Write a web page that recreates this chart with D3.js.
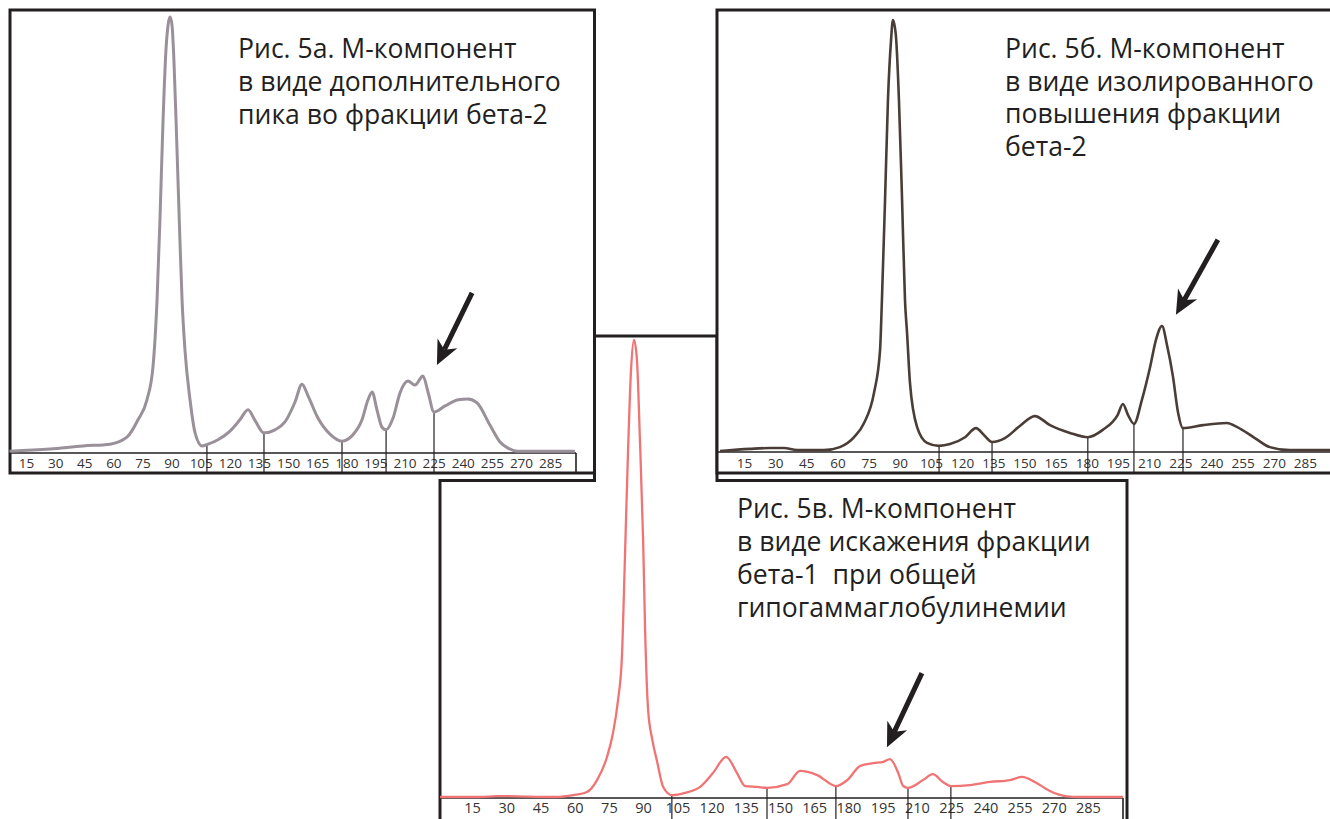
<!DOCTYPE html>
<html>
<head>
<meta charset="utf-8">
<script src="https://cdn.jsdelivr.net/npm/d3@7"></script>
<style>
    body { margin: 0; background: #fff; }
    svg { display: block; }
</style>
</head>
<body>
<svg id="chart" width="1330" height="819"></svg>
<script>
// Tick labels shared by all three densitograms
const xTicks = [15, 30, 45, 60, 75, 90, 105, 120, 135, 150, 165, 180, 195, 210, 225, 240, 255, 270, 285];

// Fig. 5a - curve: [position, relative intensity %]
const curveA = [
    [6.5, 0.2], [27.4, 0.7], [44.4, 1.4], [58.3, 1.8], [67.0, 3.4], [72.7, 7.4], [77.3, 12.0],
    [80.4, 19.5], [82.5, 34.9], [84.0, 53.3], [85.6, 76.3], [87.1, 92.4], [88.2, 98.2], [89.2, 100],
    [90.2, 98.2], [91.2, 90.1], [92.8, 69.4], [94.3, 48.7], [95.4, 34.9], [96.9, 23.4], [99.5, 12.0],
    [102.1, 4.4], [105.7, 1.4], [108.8, 1.8], [113.9, 2.8], [120.1, 4.8], [125.2, 7.4], [129.4, 9.7],
    [132.8, 7.4], [137.6, 4.4], [143.3, 5.1], [148.4, 6.9], [153.6, 11.5], [157.2, 15.6], [160.3, 12.9],
    [165.4, 7.8], [171.6, 4.1], [177.8, 2.5], [182.9, 3.7], [188.1, 7.4], [191.2, 12.0], [193.3, 13.8],
    [195.8, 9.7], [198.4, 5.7], [200.5, 5.1], [204.1, 7.8], [207.7, 13.6], [211.8, 16.3], [215.4, 15.4],
    [219.5, 17.5], [222.1, 13.8], [225.2, 9.2], [230.9, 10.6], [237.6, 12.0], [242.7, 12.2], [247.4, 11.3],
    [254.0, 6.2], [259.2, 2.3], [263.3, 0.9], [268.0, 0.2], [297.8, 0.2]
];
const dividersA = [108.2, 137.6, 177.8, 200.5, 225.2];
const captionA = ["Рис. 5а. М-компонент", "в виде дополнительного", "пика во фракции бета-2"];

// Fig. 5б
const curveB = [
    [3.5, 0.0], [17.9, 0.5], [27.5, 0.7], [34.3, 0.7], [40.5, 0.2], [53.5, 0.2], [61.2, 0.9],
    [68.0, 3.2], [72.8, 6.5], [77.6, 13.5], [80.5, 23.4], [81.4, 35.0], [82.9, 58.2], [84.3, 81.4],
    [85.8, 95.4], [86.7, 100], [88.1, 96.5], [89.6, 81.4], [91.1, 58.2], [92.5, 35.0], [93.5, 27.4],
    [94.9, 15.8], [98.3, 5.6], [103.1, 1.9], [108.9, 1.2], [114.2, 1.6], [121.4, 3.2], [126.7, 5.3],
    [130.5, 3.7], [134.4, 2.1], [140.6, 3.0], [147.8, 5.8], [155.0, 8.1], [162.3, 6.0], [171.9, 4.2],
    [180.5, 3.2], [187.7, 4.9], [194.9, 8.4], [197.4, 10.9], [199.8, 8.4], [202.7, 6.3], [206.5, 11.8],
    [210.4, 19.3], [213.3, 25.8], [216.2, 29.0], [218.6, 24.6], [221.5, 17.2], [223.9, 9.0], [226.3, 5.3],
    [235.9, 6.0], [247.4, 6.5], [252.2, 5.6], [260.9, 3.0], [268.1, 0.9], [277.7, 0.2], [300, 0.2]
];
const dividersB = [108.9, 134.4, 180.5, 202.7, 226.3];
const captionB = ["Рис. 5б. М-компонент", "в виде изолированного", "повышения фракции", "бета-2"];

// Fig. 5в
const curveC = [
    [1.0, 0.0], [18.5, 0.0], [25.9, 0.2], [52.2, 0.0], [59.3, 0.4], [65.4, 1.1], [69.8, 3.7],
    [74.2, 8.8], [76.8, 14.0], [79.0, 21.2], [80.7, 30.6], [82.0, 51.9], [83.4, 75.9], [84.7, 93.4],
    [86.0, 100], [87.3, 95.6], [88.6, 78.1], [90.0, 56.2], [90.9, 36.0], [92.2, 19.0], [94.0, 12.6],
    [96.2, 7.6], [98.8, 2.2], [102.7, 0.4], [108.4, 0.9], [115.0, 2.2], [120.7, 5.3], [126.4, 8.8],
    [131.1, 5.3], [134.7, 2.4], [140.0, 2.2], [144.4, 2.0], [153.2, 2.8], [158.8, 5.7], [166.3, 4.8],
    [174.6, 2.4], [179.5, 3.7], [185.2, 6.8], [190.9, 7.4], [195.3, 7.7], [198.2, 8.3], [201.8, 5.3],
    [204.0, 2.4], [206.1, 2.0], [212.7, 3.7], [217.0, 5.0], [221.4, 3.3], [224.9, 2.4], [233.3, 2.6],
    [242.1, 3.3], [250.8, 3.7], [256.1, 4.4], [261.7, 3.3], [268.3, 1.3], [274.9, 0.2], [281.5, 0.0],
    [300.4, 0.0]
];
const dividersC = [102.6, 144.3, 174.5, 206.1, 224.9];
const captionC = ["Рис. 5в. М-компонент", "в виде искажения фракции", "бета-1  при общей", "гипогаммаглобулинемии"];

// Arrows: [tail position, tail value, tip position, tip value]
const arrowA = [244.8, 36.6, 226.7, 20.0];
const arrowB = [243.1, 49.0, 222.9, 31.6];
const arrowC = [212.2, 27.1, 196.9, 10.9];

const ink = "#231f20";
const svg = d3.select("#chart");

// Layout of the three panels (pixels)
const panels = [
    {
        name: "C", curve: curveC, dividers: dividersC, arrow: arrowC, caption: captionC,
        color: "#f07474", strokeWidth: 2.3,
        xRange: [437.8, 1122.2], yRange: [797, 340],
        axisY: 798, axisLeft: 440, axisEnd: 1123, bottom: 819, labelY: 813, labelSize: 14.5,
        framePath: "M440,822V480.5H594.5V336H717V480.5H1127V822",
        captionX: 737, captionY: 518, lineH: 33
    },
    {
        name: "A", curve: curveA, dividers: dividersA, arrow: arrowA, caption: captionA,
        color: "#9a9099", strokeWidth: 3,
        xRange: [-3.1, 579.2], yRange: [452, 17],
        axisY: 453, axisLeft: 10, axisEnd: 576, bottom: 473, labelY: 468, labelSize: 13.5,
        frame: {x: 10, y: 10, w: 584.5, h: 463},
        captionX: 238, captionY: 58, lineH: 33
    },
    {
        name: "B", curve: curveB, dividers: dividersB, arrow: arrowB, caption: captionB,
        color: "#4a3d38", strokeWidth: 2.6,
        xRange: [712.8, 1336.1], yRange: [451, 20],
        axisY: 452, axisLeft: 717, axisEnd: null, bottom: 473, labelY: 468, labelSize: 13.5,
        frame: {x: 717, y: 10, w: 640, h: 463},
        captionX: 1005, captionY: 58, lineH: 32.5
    }
];

function valueAt(curve, v) {
    const i = d3.bisector(d => d[0]).left(curve, v);
    if (i <= 0) return curve[0][1];
    if (i >= curve.length) return curve[curve.length - 1][1];
    const a = curve[i - 1], b = curve[i];
    const t = (v - a[0]) / (b[0] - a[0]);
    return a[1] + t * (b[1] - a[1]);
}

function drawArrow(g, x1, y1, x2, y2) {
    const ang = Math.atan2(y2 - y1, x2 - x1);
    const len = 24, half = 11, notch = 7;
    const ux = Math.cos(ang), uy = Math.sin(ang);
    const px = -uy, py = ux;
    const bx = x2 - ux * len, by = y2 - uy * len;
    const nx = x2 - ux * (len - notch), ny = y2 - uy * (len - notch);

    g.append("line")
        .attr("x1", x1).attr("y1", y1)
        .attr("x2", nx).attr("y2", ny)
        .attr("stroke", ink)
        .attr("stroke-width", 5);

    g.append("path")
        .attr("d", `M${x2},${y2}L${bx + px * half},${by + py * half}L${nx},${ny}L${bx - px * half},${by - py * half}Z`)
        .attr("fill", ink);
}

function drawPanel(p) {
    const g = svg.append("g").attr("class", "panel-" + p.name);

    const x = d3.scaleLinear().domain([0, 300]).range(p.xRange);
    const y = d3.scaleLinear().domain([0, 100]).range(p.yRange);

    // Frame
    if (p.frame) {
        g.append("rect")
            .attr("x", p.frame.x).attr("y", p.frame.y)
            .attr("width", p.frame.w).attr("height", p.frame.h)
            .attr("fill", "#fff")
            .attr("stroke", ink)
            .attr("stroke-width", 3);
    } else {
        g.append("path")
            .attr("d", p.framePath)
            .attr("fill", "#fff")
            .attr("stroke", ink)
            .attr("stroke-width", 3);
    }

    // Baseline of the scale band
    g.append("line")
        .attr("x1", p.axisLeft).attr("x2", p.axisEnd || 1330)
        .attr("y1", p.axisY).attr("y2", p.axisY)
        .attr("stroke", ink).attr("stroke-width", 1.6);

    if (p.axisEnd) {
        g.append("line")
            .attr("x1", p.axisEnd).attr("x2", p.axisEnd)
            .attr("y1", p.axisY).attr("y2", p.bottom)
            .attr("stroke", ink).attr("stroke-width", 1.6);
    }

    // Tick labels
    const axis = g.append("g")
        .attr("transform", `translate(0,${p.labelY})`)
        .call(d3.axisBottom(x).tickValues(xTicks).tickSize(0).tickPadding(0));
    axis.select(".domain").remove();
    axis.selectAll("text")
        .attr("y", 0).attr("dy", 0)
        .attr("fill", "#333")
        .style("font-family", "'Open Sans', sans-serif")
        .style("font-size", p.labelSize + "px");

    // Fraction dividers
    g.selectAll(".divider")
        .data(p.dividers)
        .enter()
        .append("line")
        .attr("class", "divider")
        .attr("x1", d => x(d)).attr("x2", d => x(d))
        .attr("y1", d => y(valueAt(p.curve, d)))
        .attr("y2", p.bottom)
        .attr("stroke", ink).attr("stroke-width", 1.2);

    // Densitogram curve
    const line = d3.line()
        .x(d => x(d[0]))
        .y(d => y(d[1]))
        .curve(d3.curveMonotoneX);

    g.append("path")
        .datum(p.curve)
        .attr("d", line)
        .attr("fill", "none")
        .attr("stroke", p.color)
        .attr("stroke-width", p.strokeWidth)
        .attr("stroke-linejoin", "round");

    // Arrow pointing to the M-component
    const a = p.arrow;
    drawArrow(g, x(a[0]), y(a[1]), x(a[2]), y(a[3]));

    // Caption
    p.caption.forEach((t, i) => {
        g.append("text")
            .attr("transform", `translate(${p.captionX},${p.captionY + i * p.lineH}) scale(0.985,1)`)
            .attr("fill", ink)
            .style("font-family", "'Open Sans', sans-serif")
            .style("font-size", "27px")
            .style("white-space", "pre")
            .text(t);
    });
}

panels.forEach(drawPanel);
</script>
</body>
</html>
